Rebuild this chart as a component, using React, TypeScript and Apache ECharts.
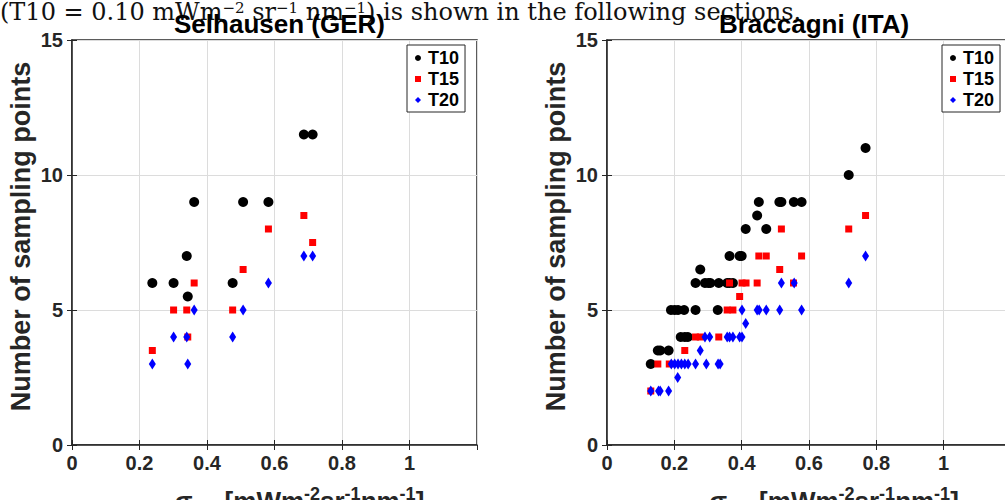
import React, { useEffect, useRef } from "react";
import * as echarts from "echarts";

// ---- data ----
const seriesNames = ["T10", "T15", "T20"];
const xTicks = [0, 0.2, 0.4, 0.6, 0.8, 1];
const yTicks = [0, 5, 10, 15];
const titles = ["Selhausen (GER)", "Braccagni (ITA)"];

// Selhausen (GER): sigma_SIF per site, sampling points for each threshold
const selX = [0.238, 0.301, 0.34, 0.343, 0.362, 0.476, 0.507, 0.582, 0.687, 0.713];
const selT10 = [6, 6, 7, 5.5, 9, 6, 9, 9, 11.5, 11.5];
const selT15 = [3.5, 5, 5, 4, 6, 5, 6.5, 8, 8.5, 7.5];
const selT20 = [3, 4, 4, 3, 5, 4, 5, 6, 7, 7];

// Braccagni (ITA)
const braT10: [number, number][] = [
  [0.13, 3], [0.151, 3.5], [0.158, 3.5], [0.183, 3.5],
  [0.19, 5], [0.201, 5], [0.211, 5], [0.229, 5],
  [0.219, 4], [0.231, 4], [0.24, 4],
  [0.263, 5], [0.263, 6], [0.277, 6.5], [0.291, 6], [0.301, 6], [0.307, 6],
  [0.332, 6], [0.329, 5], [0.357, 6], [0.364, 6], [0.374, 6],
  [0.364, 7], [0.394, 7], [0.4, 7], [0.412, 8], [0.446, 8.5], [0.451, 9],
  [0.473, 8], [0.512, 9], [0.518, 9], [0.555, 9], [0.578, 9],
  [0.718, 10], [0.768, 11],
];
const braT15: [number, number][] = [
  [0.13, 2], [0.151, 3], [0.185, 3], [0.231, 3.5], [0.263, 4], [0.277, 4],
  [0.332, 4], [0.357, 5], [0.374, 5], [0.364, 6], [0.394, 5.5], [0.401, 6],
  [0.413, 6], [0.446, 6], [0.451, 7], [0.473, 7], [0.513, 6.5], [0.518, 8],
  [0.554, 6], [0.578, 7], [0.718, 8], [0.768, 8.5],
];
const braT20: [number, number][] = [
  [0.13, 2], [0.153, 2], [0.158, 2], [0.183, 2],
  [0.191, 3], [0.201, 3], [0.211, 3], [0.221, 3], [0.231, 3], [0.241, 3],
  [0.21, 2.5], [0.263, 3], [0.277, 3.5], [0.295, 3], [0.291, 4], [0.305, 4],
  [0.33, 3], [0.336, 3], [0.357, 4], [0.364, 4], [0.374, 4], [0.394, 4],
  [0.401, 4], [0.401, 5], [0.412, 4.5], [0.446, 5], [0.452, 5], [0.473, 5],
  [0.513, 5], [0.518, 6], [0.556, 6], [0.578, 5], [0.718, 6], [0.768, 7],
];

const colors = ["#000000", "#ff0000", "#0000ff"];
const symbols = ["circle", "rect", "diamond"];
const symbolSizes: any[] = [10, 7, [7, 11]];

const FONT = "Liberation Sans, Arial, Helvetica, sans-serif";
const AX = "#262626";

export default function App() {
  const ref = useRef<HTMLDivElement>(null);
  useEffect(() => {
    if (!ref.current) return;
    const chart = echarts.init(ref.current, undefined, { renderer: "svg" });

    const gridCommon = {
      top: 40, height: 405, show: true, borderColor: AX, borderWidth: 1.5,
      containLabel: false, outerBoundsMode: "none",
    };
    const grids = [
      { ...gridCommon, left: 72, width: 405 },
      { ...gridCommon, left: 607, width: 404 },
    ];

    const xAxes: any[] = [];
    const yAxes: any[] = [];
    [0, 1].forEach((g) => {
      xAxes.push({
        type: "value", gridIndex: g, min: 0, max: 1.2, interval: 0.2,
        axisLine: { show: true, lineStyle: { color: AX, width: 1.5 } },
        axisTick: { show: true, inside: true, length: 5, lineStyle: { color: AX } },
        splitLine: { show: true, lineStyle: { color: "#dcdcdc", width: 1 } },
        axisLabel: {
          color: AX, fontFamily: FONT, fontWeight: "bold", fontSize: 20, margin: 8,
          showMaxLabel: false,
          formatter: (v: number) => (xTicks.some((t) => Math.abs(t - v) < 1e-9) ? String(+v.toFixed(1)) : ""),
        },
        name: "σ{sub|SIF} [mWm{sup|-2}sr{sup|-1}nm{sup|-1}]",
        nameLocation: "middle",
        nameGap: 40,
        nameTextStyle: {
          color: AX, fontFamily: FONT, fontWeight: "bold", fontSize: 26, lineHeight: 32,
          padding: [0, 0, 0, 50],
          rich: {
            sup: { fontSize: 18, fontFamily: FONT, fontWeight: "bold", color: AX, verticalAlign: "top", lineHeight: 18 },
            sub: { fontSize: 16, fontFamily: FONT, fontWeight: "bold", color: AX, verticalAlign: "bottom", lineHeight: 16 },
          },
        },
      });
      yAxes.push({
        type: "value", gridIndex: g, min: 0, max: 15, interval: 5,
        axisLine: { show: true, lineStyle: { color: AX, width: 1.5 } },
        axisTick: { show: true, inside: true, length: 5, lineStyle: { color: AX } },
        splitLine: { show: true, lineStyle: { color: "#dcdcdc", width: 1 } },
        axisLabel: {
          color: AX, fontFamily: FONT, fontWeight: "bold", fontSize: 20, margin: 9,
          formatter: (v: number) => (yTicks.includes(v) ? String(v) : ""),
        },
        name: "Number of sampling points",
        nameLocation: "middle",
        nameGap: 38,
        nameTextStyle: { color: AX, fontFamily: FONT, fontWeight: "bold", fontSize: 27, padding: [0, 0, 0, 12] },
      });
    });
    // mirrored ticks on top / right (box style)
    [0, 1].forEach((g) => {
      xAxes.push({
        type: "value", gridIndex: g, min: 0, max: 1.2, interval: 0.2, position: "top",
        axisLine: { show: false }, axisLabel: { show: false }, splitLine: { show: false },
        axisTick: { show: true, inside: true, length: 5, lineStyle: { color: AX } },
      });
      yAxes.push({
        type: "value", gridIndex: g, min: 0, max: 15, interval: 5, position: "right",
        axisLine: { show: false }, axisLabel: { show: false }, splitLine: { show: false },
        axisTick: { show: true, inside: true, length: 5, lineStyle: { color: AX } },
      });
    });

    const selData = [selT10, selT15, selT20].map((ys) => ys.map((y, i) => [selX[i], y]));
    const braData = [braT10, braT15, braT20];

    const series: any[] = [];
    [selData, braData].forEach((set, g) => {
      set.forEach((d, k) => {
        series.push({
          type: "scatter", name: seriesNames[k], xAxisIndex: g, yAxisIndex: g,
          data: d, symbol: symbols[k], symbolSize: symbolSizes[k],
          itemStyle: { color: colors[k], opacity: 1 },
          z: 3 + k,
        });
      });
    });

    const legendCommon = {
      orient: "vertical",
      top: 45,
      padding: [4, 6, 3, 8],
      itemGap: 3,
      itemWidth: 6,
      itemHeight: 6,
      borderColor: AX,
      borderWidth: 1,
      backgroundColor: "#ffffff",
      textStyle: { color: "#000", fontFamily: FONT, fontWeight: "bold", fontSize: 18, padding: [0, 0, 0, 2] },
      data: seriesNames.map((n, k) => ({ name: n, icon: symbols[k] })),
      selectedMode: false,
    };

    chart.setOption({
      animation: false,
      backgroundColor: "#ffffff",
      grid: grids,
      xAxis: xAxes,
      yAxis: yAxes,
      series,
      legend: [
        { ...legendCommon, left: 407 },
        { ...legendCommon, left: 942 },
      ],
      title: [
        {
          text: titles[0], left: 274.5, top: 6, textAlign: "center",
          textStyle: { color: "#000", fontFamily: FONT, fontWeight: "bold", fontSize: 26 },
        },
        {
          text: titles[1], left: 809, top: 6, textAlign: "center",
          textStyle: { color: "#000", fontFamily: FONT, fontWeight: "bold", fontSize: 26 },
        },
      ],
      graphic: [
        {
          type: "text", left: 0, top: 0, z: -1,
          style: {
            text: "(T10 = 0.10 mWm{sup|−2} sr{sup|−1} nm{sup|−1}) is shown in the following sections.",
            fill: "#111", font: "24px 'DejaVu Serif', serif",
            rich: { sup: { fontSize: 15, fontFamily: "DejaVu Serif", verticalAlign: "top", fill: "#111" } },
          },
        },
      ],
    });
    return () => chart.dispose();
  }, []);
  return <div ref={ref} style={{ position: "fixed", left: 0, top: 0, width: 1020, height: 500 }} />;
}
